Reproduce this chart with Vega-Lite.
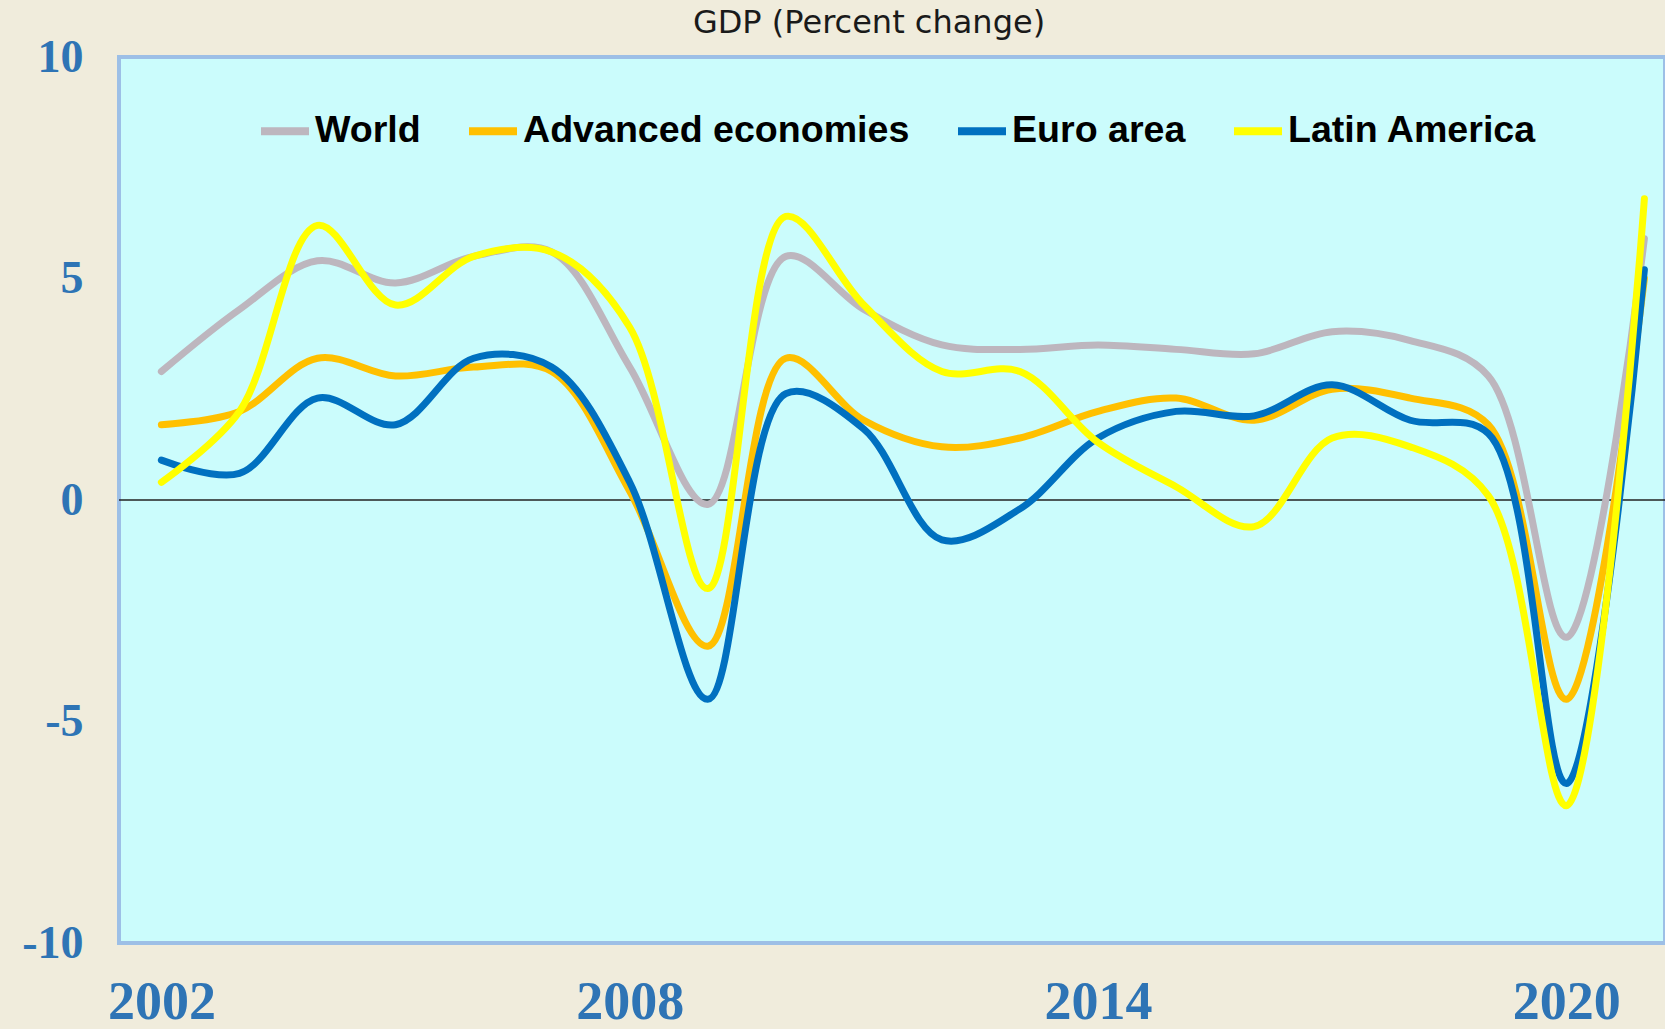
{
  "$schema": "https://vega.github.io/schema/vega-lite/v6.json",
  "width": 1546,
  "height": 886,
  "autosize": {"type": "none"},
  "padding": {"left": 119, "top": 57, "right": 0, "bottom": 86},
  "background": "#F0ECDC",
  "title": {
    "text": "GDP (Percent change)",
    "font": "DejaVu Sans",
    "fontSize": 32,
    "fontWeight": "normal",
    "color": "#1a1a1a",
    "anchor": "middle",
    "frame": "group",
    "dx": -23,
    "offset": -6
  },
  "config": {
    "view": {"fill": "#CBFCFC", "stroke": "#9DBFE6", "strokeWidth": 4}
  },
  "datasets": {
    "gdp": [
      {"year": 2002, "series": "World", "value": 2.9},
      {"year": 2003, "series": "World", "value": 4.3},
      {"year": 2004, "series": "World", "value": 5.4},
      {"year": 2005, "series": "World", "value": 4.9},
      {"year": 2006, "series": "World", "value": 5.5},
      {"year": 2007, "series": "World", "value": 5.6},
      {"year": 2008, "series": "World", "value": 3.0},
      {"year": 2009, "series": "World", "value": -0.1},
      {"year": 2010, "series": "World", "value": 5.5},
      {"year": 2011, "series": "World", "value": 4.3},
      {"year": 2012, "series": "World", "value": 3.5},
      {"year": 2013, "series": "World", "value": 3.4},
      {"year": 2014, "series": "World", "value": 3.5},
      {"year": 2015, "series": "World", "value": 3.4},
      {"year": 2016, "series": "World", "value": 3.3},
      {"year": 2017, "series": "World", "value": 3.8},
      {"year": 2018, "series": "World", "value": 3.6},
      {"year": 2019, "series": "World", "value": 2.8},
      {"year": 2020, "series": "World", "value": -3.1},
      {"year": 2021, "series": "World", "value": 5.9},
      {"year": 2002, "series": "Advanced economies", "value": 1.7},
      {"year": 2003, "series": "Advanced economies", "value": 2.0},
      {"year": 2004, "series": "Advanced economies", "value": 3.2},
      {"year": 2005, "series": "Advanced economies", "value": 2.8},
      {"year": 2006, "series": "Advanced economies", "value": 3.0},
      {"year": 2007, "series": "Advanced economies", "value": 2.9},
      {"year": 2008, "series": "Advanced economies", "value": 0.2},
      {"year": 2009, "series": "Advanced economies", "value": -3.3},
      {"year": 2010, "series": "Advanced economies", "value": 3.2},
      {"year": 2011, "series": "Advanced economies", "value": 1.8},
      {"year": 2012, "series": "Advanced economies", "value": 1.2},
      {"year": 2013, "series": "Advanced economies", "value": 1.4},
      {"year": 2014, "series": "Advanced economies", "value": 2.0},
      {"year": 2015, "series": "Advanced economies", "value": 2.3},
      {"year": 2016, "series": "Advanced economies", "value": 1.8},
      {"year": 2017, "series": "Advanced economies", "value": 2.5},
      {"year": 2018, "series": "Advanced economies", "value": 2.3},
      {"year": 2019, "series": "Advanced economies", "value": 1.7},
      {"year": 2020, "series": "Advanced economies", "value": -4.5},
      {"year": 2021, "series": "Advanced economies", "value": 5.0},
      {"year": 2002, "series": "Euro area", "value": 0.9},
      {"year": 2003, "series": "Euro area", "value": 0.6},
      {"year": 2004, "series": "Euro area", "value": 2.3},
      {"year": 2005, "series": "Euro area", "value": 1.7},
      {"year": 2006, "series": "Euro area", "value": 3.2},
      {"year": 2007, "series": "Euro area", "value": 3.0},
      {"year": 2008, "series": "Euro area", "value": 0.4},
      {"year": 2009, "series": "Euro area", "value": -4.5},
      {"year": 2010, "series": "Euro area", "value": 2.4},
      {"year": 2011, "series": "Euro area", "value": 1.6},
      {"year": 2012, "series": "Euro area", "value": -0.9},
      {"year": 2013, "series": "Euro area", "value": -0.2},
      {"year": 2014, "series": "Euro area", "value": 1.4},
      {"year": 2015, "series": "Euro area", "value": 2.0},
      {"year": 2016, "series": "Euro area", "value": 1.9},
      {"year": 2017, "series": "Euro area", "value": 2.6},
      {"year": 2018, "series": "Euro area", "value": 1.8},
      {"year": 2019, "series": "Euro area", "value": 1.5},
      {"year": 2020, "series": "Euro area", "value": -6.4},
      {"year": 2021, "series": "Euro area", "value": 5.2},
      {"year": 2002, "series": "Latin America", "value": 0.4},
      {"year": 2003, "series": "Latin America", "value": 2.0},
      {"year": 2004, "series": "Latin America", "value": 6.2},
      {"year": 2005, "series": "Latin America", "value": 4.4},
      {"year": 2006, "series": "Latin America", "value": 5.5},
      {"year": 2007, "series": "Latin America", "value": 5.6},
      {"year": 2008, "series": "Latin America", "value": 3.9},
      {"year": 2009, "series": "Latin America", "value": -2.0},
      {"year": 2010, "series": "Latin America", "value": 6.4},
      {"year": 2011, "series": "Latin America", "value": 4.4},
      {"year": 2012, "series": "Latin America", "value": 2.9},
      {"year": 2013, "series": "Latin America", "value": 2.9},
      {"year": 2014, "series": "Latin America", "value": 1.3},
      {"year": 2015, "series": "Latin America", "value": 0.3},
      {"year": 2016, "series": "Latin America", "value": -0.6},
      {"year": 2017, "series": "Latin America", "value": 1.4},
      {"year": 2018, "series": "Latin America", "value": 1.2},
      {"year": 2019, "series": "Latin America", "value": 0.1},
      {"year": 2020, "series": "Latin America", "value": -6.9},
      {"year": 2021, "series": "Latin America", "value": 6.8}
    ],
    "zero": [{"v": 0}]
  },
  "layer": [
    {
      "data": {"name": "zero"},
      "mark": {"type": "rule", "color": "#222222", "strokeWidth": 1.3},
      "encoding": {
        "y": {
          "field": "v",
          "type": "quantitative",
          "scale": {"domain": [-10, 10], "nice": false},
          "axis": {
            "values": [-10, -5, 0, 5, 10],
            "labelExpr": "'' + datum.value",
            "title": null,
            "ticks": false,
            "tickSize": 0,
            "domain": false,
            "grid": false,
            "labelFont": "Liberation Serif",
            "labelFontWeight": "bold",
            "labelFontSize": 46,
            "labelColor": "#2E74B5",
            "labelPadding": 36,
            "labelFlush": false,
            "labelOverlap": false
          }
        }
      }
    },
    {
      "data": {"name": "gdp"},
      "mark": {"type": "line", "interpolate": "catmull-rom", "strokeWidth": 7, "strokeCap": "round", "strokeJoin": "round"},
      "encoding": {
        "x": {
          "field": "year",
          "type": "quantitative",
          "scale": {"domain": [2001.457, 2021.264], "nice": false, "zero": false},
          "axis": {
            "values": [2002, 2008, 2014, 2020],
            "format": "d",
            "title": null,
            "ticks": false,
            "tickSize": 0,
            "domain": false,
            "grid": false,
            "labelFont": "Liberation Serif",
            "labelFontWeight": "bold",
            "labelFontSize": 54,
            "labelColor": "#2E74B5",
            "labelPadding": 86,
            "labelBaseline": "bottom",
            "labelFlush": false,
            "labelOverlap": false
          }
        },
        "y": {
          "field": "value",
          "type": "quantitative",
          "scale": {"domain": [-10, 10], "nice": false},
          "axis": {
            "values": [-10, -5, 0, 5, 10],
            "labelExpr": "'' + datum.value",
            "title": null,
            "ticks": false,
            "tickSize": 0,
            "domain": false,
            "grid": false,
            "labelFont": "Liberation Serif",
            "labelFontWeight": "bold",
            "labelFontSize": 46,
            "labelColor": "#2E74B5",
            "labelPadding": 36,
            "labelFlush": false,
            "labelOverlap": false
          }
        },
        "color": {
          "field": "series",
          "type": "nominal",
          "scale": {
            "domain": ["World", "Advanced economies", "Euro area", "Latin America"],
            "range": ["#BDB6BE", "#FFC000", "#0070C0", "#FFFF00"]
          },
          "legend": {
            "orient": "none",
            "legendX": 138,
            "legendY": 46,
            "direction": "horizontal",
            "title": null,
            "symbolType": "stroke",
            "symbolSize": 2304,
            "symbolStrokeWidth": 8,
            "labelFont": "Liberation Sans",
            "labelFontWeight": "bold",
            "labelFontSize": 37.6,
            "labelColor": "#000000",
            "labelOffset": 2,
            "labelLimit": 1000,
            "columnPadding": 32,
            "padding": 0
          }
        }
      }
    }
  ]
}
